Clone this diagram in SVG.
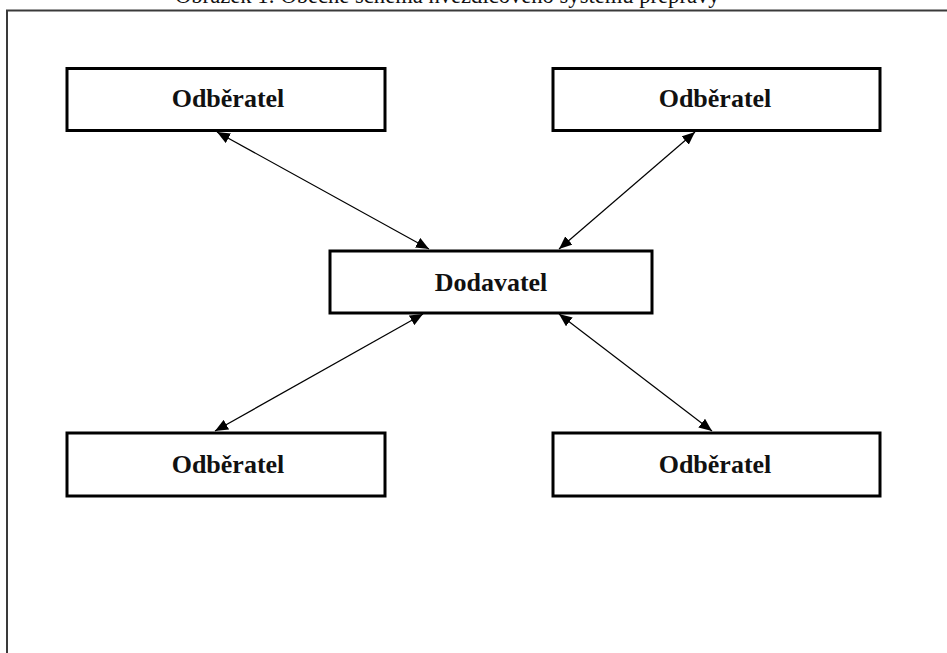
<svg xmlns="http://www.w3.org/2000/svg" width="947" height="653" viewBox="0 0 947 653">
  <style>
    .box { fill: #ffffff; stroke: #000000; stroke-width: 3; }
    .label { font-family: "Liberation Serif", "Times New Roman", serif; font-weight: bold; font-size: 26px; fill: #111111; text-anchor: middle; }
    .link { stroke: #000000; stroke-width: 1.2; fill: none; marker-start: url(#head); marker-end: url(#head); }
    .caption { font-family: "Liberation Serif", "Times New Roman", serif; font-size: 22.6px; fill: #111111; }
  </style>
  <defs>
    <marker id="head" viewBox="0 0 13 11" refX="13" refY="5.5" markerWidth="13" markerHeight="11" markerUnits="userSpaceOnUse" orient="auto-start-reverse">
      <path d="M0,0 L13,5.5 L0,11 Z" fill="#000000"/>
    </marker>
  </defs>

  <rect width="947" height="653" fill="#ffffff"/>

  <!-- caption, clipped at the top edge -->
  <text class="caption" x="175" y="3">Obrázek 1: Obecné schéma hvězdicového systému přepravy</text>

  <!-- outer frame -->
  <path d="M7,660 L7,10.5 L960,10.5" fill="none" stroke="#3a3a3a" stroke-width="2"/>

  <!-- connectors -->
  <g id="connectors">
    <line class="link" x1="217" y1="132" x2="429" y2="249"/>
    <line class="link" x1="695" y1="132" x2="559" y2="249"/>
    <line class="link" x1="423" y1="314" x2="215" y2="431"/>
    <line class="link" x1="559" y1="314" x2="712" y2="431"/>
  </g>

  <g id="odberatel-top-left">
    <rect class="box" x="67" y="68.5" width="318" height="62"/>
    <text class="label" x="228" y="107">Odběratel</text>
  </g>
  <g id="odberatel-top-right">
    <rect class="box" x="553" y="68.5" width="327" height="62"/>
    <text class="label" x="715" y="107">Odběratel</text>
  </g>
  <g id="dodavatel">
    <rect class="box" x="330" y="251" width="322" height="62"/>
    <text class="label" x="491" y="291">Dodavatel</text>
  </g>
  <g id="odberatel-bottom-left">
    <rect class="box" x="67" y="433" width="318" height="63"/>
    <text class="label" x="228" y="473">Odběratel</text>
  </g>
  <g id="odberatel-bottom-right">
    <rect class="box" x="553" y="433" width="327" height="63"/>
    <text class="label" x="715" y="473">Odběratel</text>
  </g>
</svg>
